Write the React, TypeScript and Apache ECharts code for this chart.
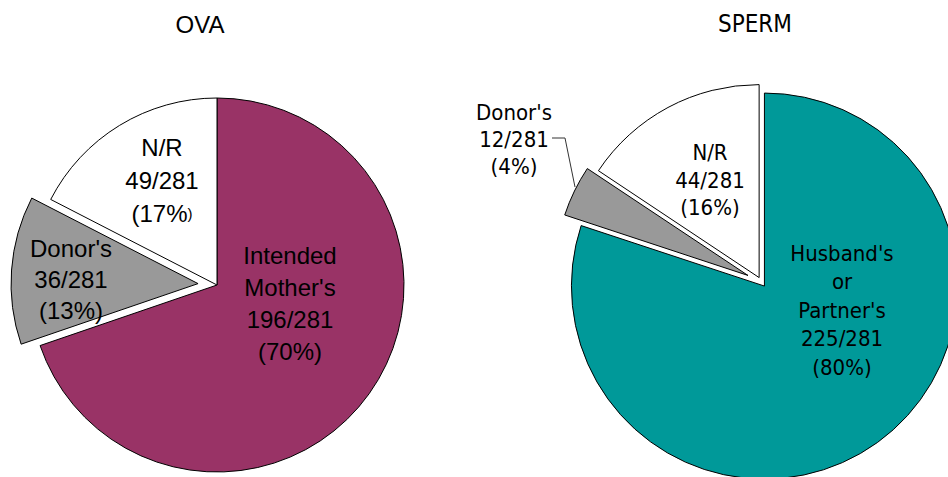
import React, { useEffect, useRef } from "react";
import * as echarts from "echarts";

// ---- data ----
const TOTAL = 281;
const ovaNames = ["Intended\nMother's", "Donor's", "N/R"];
const ovaValues = [196, 36, 49];
const ovaColors = ["#993366", "#999999", "#ffffff"];

const spermNames = ["Husband's\nor\nPartner's", "Donor's", "N/R"];
const spermValues = [225, 12, 44];
const spermColors = ["#009999", "#999999", "#ffffff"];

const titles = ["OVA", "SPERM"];

// ---- layout (not data) ----
const ovaLabelPos = [
  [290, 303],
  [71, 279],
  [162, 180],
];
const spermLabelPos = [
  [842, 310],
  [514, 139],
  [710, 180],
];
const ovaExplode = [0, 19, 0];
const spermExplode = [5, 15, 5];

const LEFT_FONT = "'Liberation Sans', Arial, sans-serif";
const RIGHT_FONT = "'DejaVu Sans Condensed', 'DejaVu Sans', sans-serif";

function fmt(smallParen: boolean) {
  return (p: any) => {
    const pct = Math.round(p.percent);
    const close = smallParen ? "{s|)}" : ")";
    return `${p.name}\n${p.value}/${TOTAL}\n(${pct}%${close}`;
  };
}

type PieCfg = {
  id: string;
  names: string[];
  values: number[];
  colors: string[];
  explode: number[];
  labelPos: number[][];
  center: number[];
  radius: number;
  font: string;
  fontSize: number;
  lineHeights: number[];
  outside: boolean[];
  smallParen: boolean[];
  linePoints?: (number[][] | null)[];
};

function buildSeries(cfg: PieCfg) {
  const total = cfg.values.reduce((a, b) => a + b, 0);
  let cum = 0;
  const out: any[] = [];
  cfg.values.forEach((v, k) => {
    const mid = ((cum + v / 2) / total) * Math.PI * 2; // clockwise from top
    cum += v;
    const off = cfg.explode[k];
    const cx = cfg.center[0] + off * Math.sin(mid);
    const cy = cfg.center[1] - off * Math.cos(mid);
    const data = cfg.names.map((n, i) => {
      const shown = i === k;
      return {
        name: n,
        value: cfg.values[i],
        itemStyle: shown
          ? { color: cfg.colors[i], borderColor: "#000", borderWidth: 1 }
          : { color: "transparent", borderWidth: 0 },
        label: shown
          ? { show: true, formatter: fmt(cfg.smallParen[i]), lineHeight: cfg.lineHeights[i] }
          : { show: false },
        labelLine: { show: shown && cfg.outside[i] },
      };
    });
    out.push({
      type: "pie",
      id: `${cfg.id}-${k}`,
      center: [cx, cy],
      radius: cfg.radius,
      startAngle: 90,
      clockwise: true,
      avoidLabelOverlap: false,
      silent: true,
      emphasis: { disabled: true },
      data,
      label: {
        show: true,
        position: cfg.outside[k] ? "outside" : "inside",
        color: "#000",
        fontFamily: cfg.font,
        fontSize: cfg.fontSize,
        align: "center",
        rich: { s: { fontSize: 15, fontFamily: cfg.font, color: "#000", lineHeight: cfg.lineHeights[k] } },
      },
      labelLine: { show: cfg.outside[k], lineStyle: { color: "#333", width: 1 } },
      labelLayout: (p: any) => {
        const r: any = {
          x: cfg.labelPos[p.dataIndex][0],
          y: cfg.labelPos[p.dataIndex][1],
          align: "center",
          verticalAlign: "middle",
        };
        const lp = cfg.linePoints && cfg.linePoints[p.dataIndex];
        if (lp) r.labelLinePoints = lp;
        return r;
      },
    });
  });
  return out;
}

export default function App() {
  const ref = useRef<HTMLDivElement>(null);
  useEffect(() => {
    if (!ref.current) return;
    const chart = echarts.init(ref.current, undefined, { renderer: "svg" });

    const left = buildSeries({
      id: "ova",
      names: ovaNames,
      values: ovaValues,
      colors: ovaColors,
      explode: ovaExplode,
      labelPos: ovaLabelPos,
      center: [217, 285],
      radius: 187,
      font: LEFT_FONT,
      fontSize: 24,
      lineHeights: [32, 31, 33],
      outside: [false, false, false],
      smallParen: [false, false, true],
    });
    const right = buildSeries({
      id: "sperm",
      names: spermNames,
      values: spermValues,
      colors: spermColors,
      explode: spermExplode,
      labelPos: spermLabelPos,
      center: [761.5, 282],
      radius: 193,
      font: RIGHT_FONT,
      fontSize: 22,
      lineHeights: [28.5, 27, 27.5],
      outside: [false, true, false],
      smallParen: [false, false, false],
      linePoints: [
        null,
        [
          [552, 138],
          [565, 138],
          [575, 187],
        ],
        null,
      ],
    });

    chart.setOption({
      animation: false,
      title: titles.map((t, i) => ({
        text: t,
        left: i === 0 ? 200 : 755,
        top: 12,
        textAlign: "center",
        padding: 0,
        textStyle: {
          fontFamily: i === 0 ? LEFT_FONT : RIGHT_FONT,
          fontSize: 24,
          fontWeight: "normal",
          color: "#000",
        },
      })),
      series: [...left, ...right],
    } as any);

    return () => chart.dispose();
  }, []);

  return (
    <div
      ref={ref}
      style={{ position: "fixed", left: 0, top: 0, width: 948, height: 477, background: "#fff" }}
    />
  );
}
